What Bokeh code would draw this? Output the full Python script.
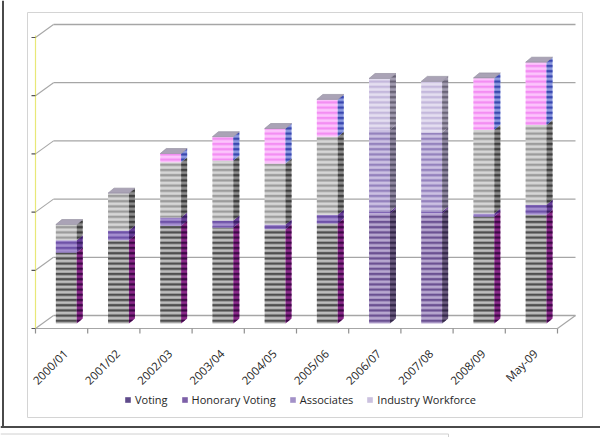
import math
import numpy as np
from bokeh.plotting import figure
from bokeh.models import Range1d, Legend, LegendItem, ColumnDataSource
from bokeh.embed import file_html
from bokeh.resources import INLINE
from bokeh.core.properties import value

# ---------------- data ----------------
years = ["2000/01", "2001/02", "2002/03", "2003/04", "2004/05",
         "2005/06", "2006/07", "2007/08", "2008/09", "May-09"]
voting = [610, 715, 840, 825, 810, 860, 945, 945, 920, 935]
honorary_voting = [105, 85, 70, 60, 40, 75, 15, 15, 25, 85]
associates = [135, 320, 475, 515, 525, 670, 705, 680, 720, 685]
industry_workforce = [0, 0, 75, 205, 300, 320, 440, 440, 445, 540]
series_names = ["Voting", "Honorary Voting", "Associates", "Industry Workforce"]
grid_step = 500
grid_count = 5

# ---------------- styles / layout ----------------
W, H = 600, 437
PX_CAT = 52.2            # px per category
PX_GRID = 58.2           # px per grid step
REF_X0, REF_Y0 = 35, 323  # front axis x, bar baseline y (page px)
DU = grid_step / PX_GRID  # data units per px (y)
XU = 1.0 / PX_CAT         # data units per px (x)

x_start = (0 - REF_X0) * XU
x_end = (W - REF_X0) * XU
y_top = REF_Y0 * DU
y_bot = (REF_Y0 - H) * DU

BACK_DX = 18 * XU
BACK_DY = 8 * DU
FRONT_DY = -5 * DU
BAR_L, BAR_W = 0.39, 0.40
SIDE_DX, SIDE_DY = 6 * XU, 5 * DU

legend_colors = ["#5f4b8b", "#7d60a8", "#a391c8", "#cbc1df"]
gray_scheme = [
    ("#bdbdbd", "#4f4f4f", "#8a2a8a", "#3c0846"),
    ("#a58fd0", "#6e52a8", "#6a3f9a", "#3a1e66"),
    ("#d6d6d6", "#9c9c9c", "#8c8c8c", "#3e3e3e"),
    ("#fcc4fc", "#f38ef3", "#8c9ae0", "#3a48b0"),
]
purple_scheme = [
    ("#b7a7cf", "#6b5192", "#6a5a7e", "#34284a"),
    ("#a58fd0", "#6e52a8", "#6a3f9a", "#3a1e66"),
    ("#cbc0e2", "#9482bd", "#9088a0", "#555068"),
    ("#e4def0", "#c4b8dc", "#a29cb0", "#6a6478"),
]
purple_years = {"2006/07", "2007/08"}
FONT = "Open Sans"

p = figure(width=W, height=H, x_range=Range1d(x_start, x_end), y_range=Range1d(y_bot, y_top),
           output_backend="svg", toolbar_location=None,
           x_axis_location=None, y_axis_location=None, min_border=0)
p.outline_line_color = None
p.xgrid.visible = False
p.ygrid.visible = False
p.background_fill_color = "white"
p.border_fill_color = "white"

n = len(years)

def X(px):
    return (px - REF_X0) * XU

def Y(py):
    return (REF_Y0 - py) * DU

# chart area border
p.quad(left=[X(27)], right=[X(582)], top=[Y(12)], bottom=[Y(417)],
       fill_color=None, line_color="#d4d4d4", line_width=1)
# outer frame of the picture
p.segment(x0=[X(0), X(2.5)], y0=[Y(426.5), Y(0)], x1=[X(600), X(2.5)], y1=[Y(426.5), Y(426.5)],
          line_color="#4a4a4a", line_width=2)
p.segment(x0=[X(0), X(448)], y0=[Y(433.5), Y(433.5)], x1=[X(448), X(448)], y1=[Y(433.5), Y(437)],
          line_color="#d0d0d0", line_width=1)

# back wall gridlines and left wall diagonals
levels = [k * grid_step for k in range(grid_count + 1)]
p.segment(x0=[BACK_DX] * len(levels), y0=[v + BACK_DY for v in levels],
          x1=[n + BACK_DX] * len(levels), y1=[v + BACK_DY for v in levels],
          line_color="#a6a6a6", line_width=1.3)
p.segment(x0=[0] * len(levels), y0=[v + FRONT_DY for v in levels],
          x1=[BACK_DX] * len(levels), y1=[v + BACK_DY for v in levels],
          line_color="#a6a6a6", line_width=1.1)
# floor front edge + right diagonal
p.segment(x0=[0, n], y0=[FRONT_DY, FRONT_DY], x1=[n, n + BACK_DX], y1=[FRONT_DY, BACK_DY],
          line_color="#a6a6a6", line_width=1.2)
# value axis (front) and its ticks
p.segment(x0=[0], y0=[FRONT_DY], x1=[0], y1=[levels[-1] + FRONT_DY + 2 * DU],
          line_color="#e8e878", line_width=1.2)
p.segment(x0=[-4 * XU] * len(levels), y0=[v + FRONT_DY for v in levels],
          x1=[0] * len(levels), y1=[v + FRONT_DY for v in levels],
          line_color="#555555", line_width=1.2)
# category ticks
p.segment(x0=list(range(n + 1)), y0=[FRONT_DY] * (n + 1),
          x1=list(range(n + 1)), y1=[FRONT_DY - 5 * DU] * (n + 1),
          line_color="#909090", line_width=1.2)

# stacked 3D-looking bars
values = [voting, honorary_voting, associates, industry_workforce]
stack = np.zeros(n)
for s, vals in enumerate(values):
    b = stack.copy()
    t = stack + np.array(vals, dtype=float)
    schemes = [purple_scheme if y in purple_years else gray_scheme for y in years]
    xl = np.arange(n) + BAR_L
    xr = xl + BAR_W
    face = ColumnDataSource(dict(
        x=xl + BAR_W / 2, bottom=b, top=t,
        fill=[sc[s][0] for sc in schemes], hatch=[sc[s][1] for sc in schemes]))
    p.vbar(x="x", bottom="bottom", top="top", width=BAR_W, source=face,
           fill_color="fill", line_color=None,
           hatch_pattern="horizontal_line", hatch_color="hatch",
           hatch_scale=5.2, hatch_weight=2.4)
    side = ColumnDataSource(dict(
        xs=[[r, r + SIDE_DX, r + SIDE_DX, r] for r in xr],
        ys=[[bb, bb + SIDE_DY, tt + SIDE_DY, tt] for bb, tt in zip(b, t)],
        fill=[sc[s][2] for sc in schemes], hatch=[sc[s][3] for sc in schemes]))
    p.patches(xs="xs", ys="ys", source=side, fill_color="fill", line_color=None,
              hatch_pattern="horizontal_line", hatch_color="hatch",
              hatch_scale=5.2, hatch_weight=2.4)
    stack = t

# top caps
xl = np.arange(n) + BAR_L
xr = xl + BAR_W
p.patches(xs=[[a, a + SIDE_DX, c + SIDE_DX, c] for a, c in zip(xl, xr)],
          ys=[[T, T + SIDE_DY, T + SIDE_DY, T] for T in stack],
          fill_color="#aaa3b6", line_color="#8c8698", line_width=0.6)

# category labels
p.text(x=[i + 0.5 + 4 * XU for i in range(n)], y=[Y(351)] * n, text=years,
       angle=math.pi / 4, text_align="right", text_baseline="middle",
       text_font=value(FONT), text_font_size="11.5px", text_color="#262626")

# legend (swatches from off-view bars)
items = []
for name, col in zip(series_names, legend_colors):
    r = p.vbar(x=[-50], top=[1], bottom=[0], width=0.4, fill_color=col, line_color=None)
    items.append(LegendItem(label=name, renderers=[r]))
legend = Legend(items=items, orientation="horizontal", location=(124, H - 407),
                glyph_width=7, glyph_height=7, label_standoff=4, spacing=13,
                padding=0, margin=0, border_line_color=None, background_fill_alpha=0,
                label_text_font=FONT, label_text_font_size="11px", label_text_color="#262626",
                label_height=14)
p.add_layout(legend)

open("out.html", "w").write(file_html(p, INLINE))
